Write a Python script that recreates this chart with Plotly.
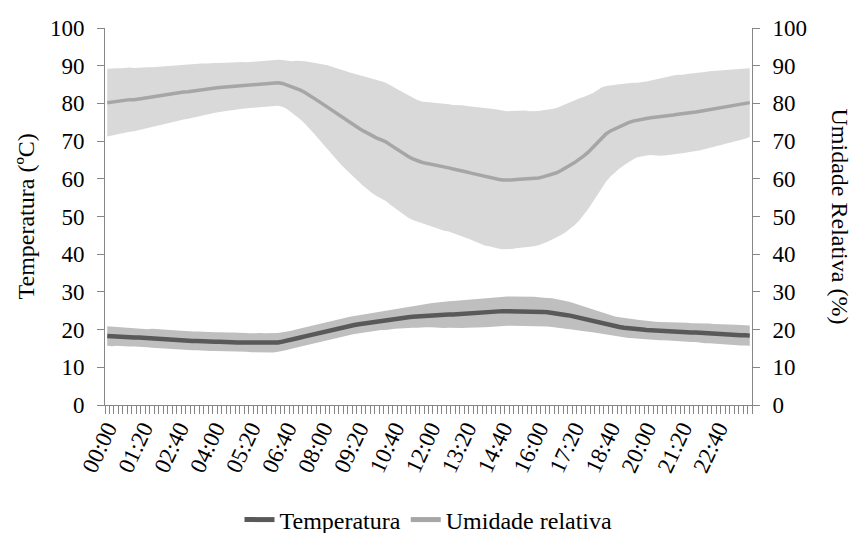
import plotly.graph_objects as go

times = [f"{h:02d}:{m:02d}" for h in range(24) for m in range(0, 60, 10)]

hum_mean = [
    80.2, 80.4, 80.5, 80.6, 80.8, 81.0,
    81.0, 81.2, 81.4, 81.5, 81.6, 81.8,
    82.0, 82.2, 82.4, 82.6, 82.8, 83.0,
    83.1, 83.3, 83.5, 83.7, 83.8, 84.0,
    84.1, 84.2, 84.3, 84.5, 84.6, 84.7,
    84.8, 84.8, 84.9, 85.0, 85.1, 85.2,
    85.3, 85.4, 85.5, 85.3, 84.9, 84.4,
    84.0, 83.5, 82.9, 82.2, 81.4, 80.6,
    79.8, 79.0, 78.1, 77.3, 76.4, 75.6,
    74.8, 74.1, 73.4, 72.7, 72.0, 71.4,
    70.8, 70.3, 69.8, 69.0, 68.2, 67.4,
    66.6, 65.9, 65.3, 64.8, 64.4, 64.1,
    63.9, 63.6, 63.4, 63.1, 62.9, 62.6,
    62.4, 62.1, 61.8, 61.5, 61.2, 60.9,
    60.6, 60.4, 60.1, 59.9, 59.7, 59.6,
    59.7, 59.8, 59.9, 60.0, 59.9, 60.0,
    60.2, 60.5, 60.8, 61.2, 61.6, 62.2,
    62.8, 63.6, 64.3, 65.1, 66.0, 67.0,
    68.2, 69.5, 70.9, 71.9, 72.7, 73.3,
    73.9, 74.4, 74.9, 75.3, 75.6, 75.8,
    76.0, 76.2, 76.3, 76.4, 76.6, 76.8,
    76.9, 77.1, 77.2, 77.4, 77.5, 77.7,
    77.9, 78.1, 78.3, 78.5, 78.7, 78.9,
    79.1, 79.3, 79.5, 79.7, 79.9, 80.2,
]

hum_sd = [
    9.0, 8.9, 8.8, 8.7, 8.6, 8.5,
    8.4, 8.3, 8.2, 8.1, 8.0, 7.9,
    7.8, 7.7, 7.6, 7.5, 7.4, 7.3,
    7.2, 7.1, 7.0, 6.9, 6.8, 6.7,
    6.6, 6.5, 6.4, 6.3, 6.3, 6.2,
    6.2, 6.1, 6.1, 6.1, 6.0, 6.0,
    6.0, 6.0, 6.1, 6.2, 6.4, 6.8,
    7.3, 7.8, 8.3, 8.8, 9.4, 10.0,
    10.6, 11.1, 11.6, 12.1, 12.6, 13.0,
    13.4, 13.8, 14.2, 14.6, 14.9, 15.2,
    15.4, 15.6, 15.7, 15.9, 16.0, 16.1,
    16.2, 16.2, 16.2, 16.1, 16.1, 16.3,
    16.5, 16.7, 16.8, 16.9, 16.9, 17.0,
    17.2, 17.4, 17.5, 17.7, 17.9, 18.1,
    18.3, 18.3, 18.4, 18.4, 18.4, 18.3,
    18.3, 18.2, 18.2, 18.1, 18.0, 17.9,
    17.8, 17.7, 17.5, 17.3, 17.2, 17.1,
    17.0, 16.9, 16.6, 16.2, 15.7, 15.1,
    14.5, 13.9, 13.3, 12.7, 12.1, 11.6,
    11.2, 10.8, 10.5, 10.2, 9.9, 9.8,
    9.8, 9.9, 10.1, 10.3, 10.4, 10.5,
    10.5, 10.5, 10.4, 10.4, 10.4, 10.3,
    10.3, 10.2, 10.2, 10.1, 10.0, 9.9,
    9.8, 9.7, 9.6, 9.5, 9.3, 9.1,
]

temp_mean = [
    18.3, 18.2, 18.2, 18.1, 18.0, 18.0,
    17.9, 17.9, 17.8, 17.7, 17.7, 17.6,
    17.5, 17.4, 17.4, 17.3, 17.2, 17.1,
    17.1, 17.0, 17.0, 16.9, 16.9, 16.8,
    16.8, 16.8, 16.7, 16.7, 16.7, 16.6,
    16.6, 16.6, 16.5, 16.5, 16.5, 16.4,
    16.4, 16.5, 16.6, 16.8, 17.0, 17.3,
    17.6, 17.9, 18.2, 18.5, 18.8, 19.1,
    19.4, 19.7, 20.0, 20.3, 20.6, 20.8,
    21.0, 21.2, 21.4, 21.6, 21.8, 22.0,
    22.2, 22.4, 22.5, 22.7, 22.8, 23.0,
    23.1, 23.3, 23.4, 23.5, 23.6, 23.7,
    23.8, 23.8, 23.9, 23.9, 24.0, 24.0,
    24.1, 24.1, 24.2, 24.3, 24.4, 24.4,
    24.5, 24.6, 24.7, 24.8, 24.9, 24.9,
    24.9, 24.9, 24.8, 24.8, 24.8, 24.8,
    24.7, 24.7, 24.6, 24.5, 24.3, 24.1,
    23.9, 23.7, 23.4, 23.2, 22.9, 22.6,
    22.3, 22.0, 21.7, 21.4, 21.1, 20.9,
    20.7, 20.5, 20.3, 20.2, 20.1, 20.0,
    19.9, 19.8, 19.7, 19.6, 19.6, 19.5,
    19.4, 19.4, 19.3, 19.3, 19.2, 19.2,
    19.1, 19.0, 19.0, 18.9, 18.9, 18.8,
    18.7, 18.7, 18.6, 18.5, 18.5, 18.4,
]

temp_sd = [
    2.6, 2.6, 2.5, 2.5, 2.5, 2.5,
    2.4, 2.4, 2.4, 2.4, 2.5, 2.5,
    2.5, 2.5, 2.5, 2.5, 2.5, 2.5,
    2.5, 2.5, 2.5, 2.5, 2.5, 2.5,
    2.5, 2.5, 2.5, 2.5, 2.5, 2.5,
    2.5, 2.5, 2.5, 2.5, 2.6, 2.6,
    2.6, 2.6, 2.5, 2.5, 2.4, 2.4,
    2.4, 2.4, 2.4, 2.4, 2.4, 2.4,
    2.4, 2.4, 2.4, 2.4, 2.4, 2.4,
    2.4, 2.4, 2.4, 2.4, 2.4, 2.5,
    2.5, 2.5, 2.6, 2.6, 2.6, 2.7,
    2.7, 2.8, 2.9, 3.0, 3.0, 3.1,
    3.2, 3.3, 3.4, 3.5, 3.5, 3.6,
    3.6, 3.7, 3.7, 3.8, 3.8, 3.9,
    3.9, 3.9, 3.9, 3.9, 3.9, 3.9,
    3.9, 3.9, 3.9, 3.9, 3.9, 3.9,
    3.9, 3.9, 3.8, 3.8, 3.8, 3.8,
    3.7, 3.6, 3.5, 3.4, 3.3, 3.2,
    3.0, 2.9, 2.8, 2.7, 2.7, 2.6,
    2.6, 2.6, 2.5, 2.5, 2.5, 2.5,
    2.4, 2.4, 2.4, 2.4, 2.4, 2.4,
    2.5, 2.5, 2.5, 2.5, 2.5, 2.5,
    2.6, 2.6, 2.6, 2.6, 2.6, 2.6,
    2.7, 2.7, 2.7, 2.7, 2.7, 2.7,
]

y_ticks = [0, 10, 20, 30, 40, 50, 60, 70, 80, 90, 100]
label_step = 8

x = list(range(len(times)))
hum_up = [m + s for m, s in zip(hum_mean, hum_sd)]
hum_lo = [m - s for m, s in zip(hum_mean, hum_sd)]
temp_up = [m + s for m, s in zip(temp_mean, temp_sd)]
temp_lo = [m - s for m, s in zip(temp_mean, temp_sd)]

FONT = "Liberation Serif"
AX = "#868686"
TS = 23   # tick font size
LS = 24   # title / legend font size

fig = go.Figure()
fig.add_trace(go.Scatter(x=x, y=hum_lo, mode="lines", line=dict(width=0),
                         showlegend=False, hoverinfo="skip", yaxis="y2"))
fig.add_trace(go.Scatter(x=x, y=hum_up, mode="lines", line=dict(width=0),
                         fill="tonexty", fillcolor="#d9d9d9",
                         showlegend=False, hoverinfo="skip", yaxis="y2"))
fig.add_trace(go.Scatter(x=x, y=temp_lo, mode="lines", line=dict(width=0),
                         showlegend=False, hoverinfo="skip"))
fig.add_trace(go.Scatter(x=x, y=temp_up, mode="lines", line=dict(width=0),
                         fill="tonexty", fillcolor="#bfbfbf",
                         showlegend=False, hoverinfo="skip"))
fig.add_trace(go.Scatter(x=x, y=temp_mean, mode="lines", name="Temperatura",
                         line=dict(color="#595959", width=4.5)))
fig.add_trace(go.Scatter(x=x, y=hum_mean, mode="lines", name="Umidade relativa",
                         line=dict(color="#a6a6a6", width=3.5), yaxis="y2"))

fig.update_layout(
    width=856, height=525,
    margin=dict(l=97, r=112, t=20, b=128, autoexpand=False),
    paper_bgcolor="white", plot_bgcolor="white",
    font=dict(family=FONT, size=TS, color="#000000"),
    showlegend=True,
    legend=dict(orientation="h", x=0.5, xanchor="center", y=-0.305, yanchor="middle",
                font=dict(family=FONT, size=LS), traceorder="normal",
                itemsizing="constant", bgcolor="rgba(0,0,0,0)"),
    xaxis=dict(
        range=[-0.5, len(times) - 0.5],
        tickmode="array",
        tickvals=x[::label_step],
        ticktext=times[::label_step],
        tickangle=-65,
        ticks="",
        automargin=False,
        showgrid=False, zeroline=False,
        showline=True, linecolor=AX, linewidth=1,
        tickfont=dict(family=FONT, size=TS),
        minor=dict(ticks="outside", tick0=-0.5, dtick=1, ticklen=8,
                   tickcolor=AX, tickwidth=1, showgrid=False),
    ),
    yaxis=dict(
        range=[0, 100], tickmode="array", tickvals=y_ticks,
        ticks="outside", ticklen=7, tickcolor=AX,
        automargin=False,
        showgrid=False, zeroline=False,
        showline=True, linecolor=AX, linewidth=1,
        tickfont=dict(family=FONT, size=TS),
        ticklabelstandoff=8,
    ),
    yaxis2=dict(
        range=[0, 100], tickmode="array", tickvals=y_ticks,
        overlaying="y", side="right",
        ticks="outside", ticklen=7, tickcolor=AX,
        automargin=False,
        showgrid=False, zeroline=False,
        showline=True, linecolor=AX, linewidth=1,
        tickfont=dict(family=FONT, size=TS),
        ticklabelstandoff=8,
    ),
    annotations=[
        dict(text="Temperatura (ºC)", x=0.0, xref="paper", y=0.5, yref="paper",
             showarrow=False, textangle=-90, font=dict(family=FONT, size=LS),
             xanchor="center", yanchor="middle", xshift=-80),
        dict(text="Umidade Relativa (%)", x=1.0, xref="paper", y=0.5, yref="paper",
             showarrow=False, textangle=90, font=dict(family=FONT, size=LS),
             xanchor="center", yanchor="middle", xshift=88),
    ],
)

fig.write_html("out.html")
